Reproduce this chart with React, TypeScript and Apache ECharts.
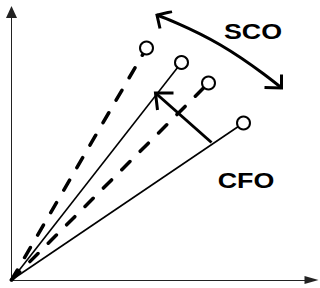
import React, { useEffect, useRef } from "react";
import * as echarts from "echarts";

// Ray end points (x, y) in diagram units, origin at lower-left corner
const rayEnds: number[][] = [
  [135, 232],
  [170, 217.5],
  [197, 197],
  [232, 157],
];
const rayDashed: boolean[] = [true, false, true, false];

// CFO arrow: shaft start -> tip, and chevron arms
const cfoShaft: number[][] = [
  [200, 137.5],
  [144, 187],
];
const cfoHead: number[][] = [
  [162, 187],
  [144, 187],
  [146, 170],
];

// SCO double arrow: curve through three points, chevrons at both ends
const scoCurve: number[][] = [
  [145.5, 265],
  [209, 235],
  [270, 192],
];
const scoHeadStart: number[][] = [
  [160.5, 268.5],
  [145.5, 265],
  [148.5, 251.5],
];
const scoHeadEnd: number[][] = [
  [270, 205.5],
  [270, 192],
  [253, 192.5],
];

const labels = [
  { text: "SCO", at: [253, 31.5] },
  { text: "CFO", at: [246, 180] },
];

export default function App() {
  const ref = useRef<HTMLDivElement>(null);
  useEffect(() => {
    if (!ref.current) return;
    const chart = echarts.init(ref.current, undefined, { renderer: "svg" });
    const black = "#000";
    const series: any[] = [];
    rayEnds.forEach((p, i) => {
      series.push({
        type: "line",
        data: [[0, 0], p],
        symbol: "none",
        z: 2,
        lineStyle: rayDashed[i]
          ? { color: black, width: 3.5, type: [11.5, 14.5], cap: "round" }
          : { color: black, width: 1.6, type: "solid" },
      });
    });
    series.push({
      type: "scatter",
      data: rayEnds,
      symbol: "circle",
      symbolSize: 13,
      z: 5,
      itemStyle: { color: "#fff", borderColor: black, borderWidth: 2, opacity: 1 },
    });
    const stroke = (data: number[][], smooth = false) => ({
      type: "line",
      data,
      symbol: "none",
      smooth,
      z: 4,
      lineStyle: { color: black, width: 3, join: "miter", cap: "butt" },
    });
    series.push(stroke(cfoShaft));
    series.push(stroke(cfoHead));
    series.push(stroke(scoCurve, true));
    series.push(stroke(scoHeadStart));
    series.push(stroke(scoHeadEnd));

    chart.setOption({
      animation: false,
      grid: { left: 11.5, top: 12, width: 300, height: 268 },
      xAxis: {
        type: "value",
        min: 0,
        max: 300,
        splitLine: { show: false },
        axisTick: { show: false },
        axisLabel: { show: false },
        axisLine: {
          show: true,
          symbol: ["none", "triangle"],
          symbolSize: [8, 14],
          lineStyle: { color: "#222", width: 1 },
        },
      },
      yAxis: {
        type: "value",
        min: 0,
        max: 268,
        splitLine: { show: false },
        axisTick: { show: false },
        axisLabel: { show: false },
        axisLine: {
          show: true,
          symbol: ["none", "triangle"],
          symbolSize: [11, 12],
          lineStyle: { color: "#222", width: 1 },
        },
      },
      graphic: labels.map((l) => ({
        type: "text",
        x: l.at[0],
        y: l.at[1],
        scaleX: 1.22,
        style: {
          text: l.text,
          fill: "#000",
          fontFamily: "Liberation Sans",
          fontWeight: "bold",
          fontSize: 22,
          textAlign: "center",
          textVerticalAlign: "middle",
          align: "center",
          verticalAlign: "middle",
        },
      })),
      series,
    });
    return () => chart.dispose();
  }, []);
  return (
    <div
      ref={ref}
      style={{ position: "fixed", left: 0, top: 0, width: 320, height: 288, background: "#fff" }}
    />
  );
}
